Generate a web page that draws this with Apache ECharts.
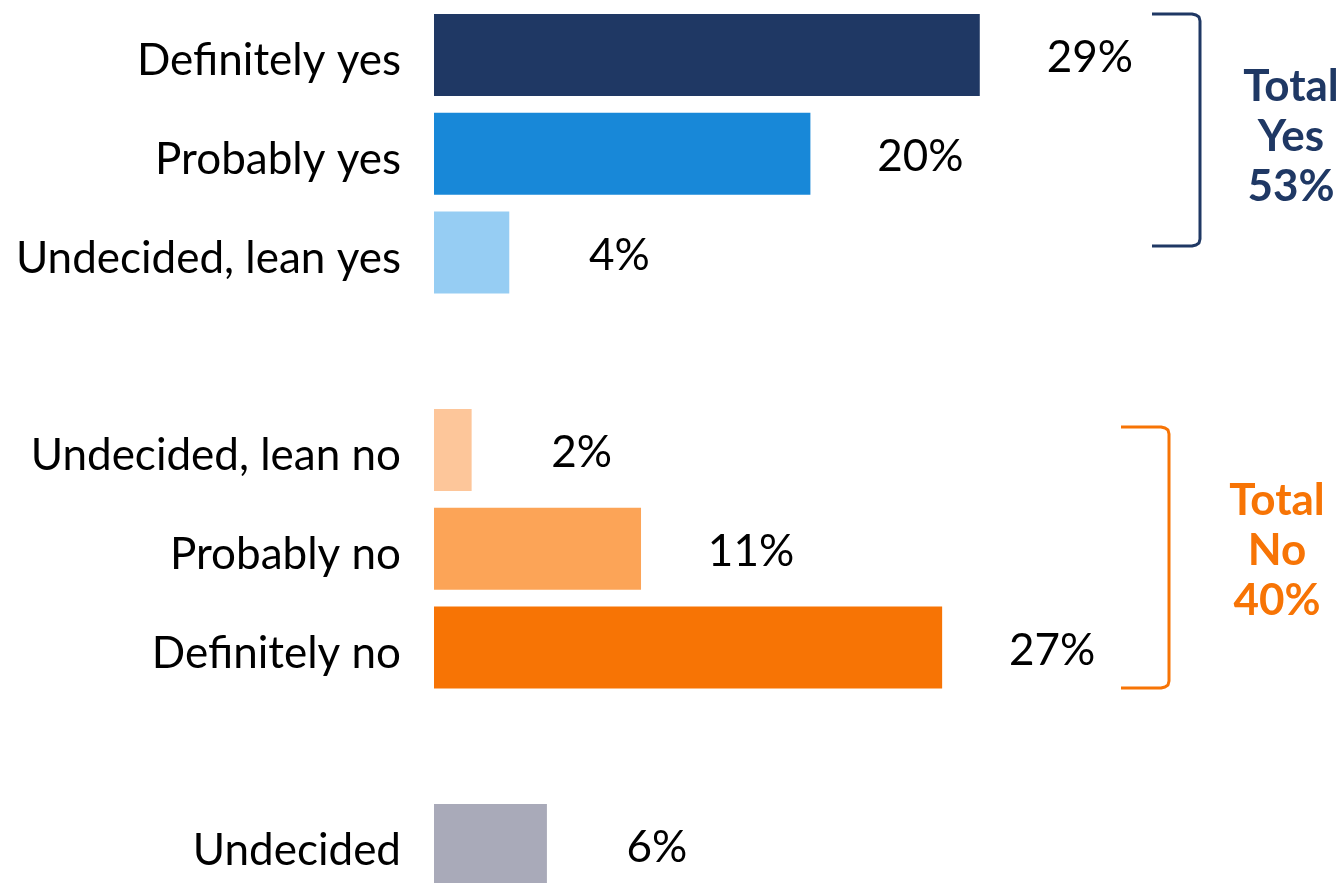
<!DOCTYPE html>
<html>
<head>
<meta charset="utf-8">
<script src="https://cdn.jsdelivr.net/npm/echarts@6/dist/echarts.min.js"></script>
<style>
html,body{margin:0;padding:0;background:#fff;}
#main{width:1342px;height:883px;}
</style>
</head>
<body>
<div id="main"></div>
<script>
const categories = ['Definitely yes', 'Probably yes', 'Undecided, lean yes', '', 'Undecided, lean no', 'Probably no', 'Definitely no', ' ', 'Undecided'];
const values = [29, 20, 4, null, 2, 11, 27, null, 6];
const totalYes = 53;
const totalNo = 40;

const barColors = ['#1F3864', '#1888D8', '#96CDF3', '#ffffff', '#FDC69A', '#FCA457', '#F77405', '#ffffff', '#A9AAB9'];
const navy = '#1F3864';
const orange = '#F77405';
const FONT = 'Lato';

function bracket(xl, xr, yt, yb) {
  return [
    [xl, yt], [xr - 8, yt], [xr - 4, yt + 1], [xr - 1, yt + 3], [xr, yt + 7],
    [xr, yb - 7], [xr - 1, yb - 3], [xr - 4, yb - 1], [xr - 8, yb], [xl, yb]
  ];
}

const chart = echarts.init(document.getElementById('main'));
chart.setOption({
  animation: false,
  backgroundColor: '#ffffff',
  grid: { left: 434, width: 752.8, top: 5.6, height: 888.8, containLabel: false, outerBoundsMode: 'none' },
  xAxis: { type: 'value', min: 0, max: 40, show: false },
  yAxis: {
    type: 'category',
    data: categories,
    inverse: true,
    axisLine: { show: false },
    axisTick: { show: false },
    splitLine: { show: false },
    axisLabel: {
      color: '#000', fontFamily: FONT, fontSize: 44, margin: 33,
      formatter: v => '{c|' + v + '}',
      rich: { c: { color: '#000', fontFamily: FONT, fontSize: 44, padding: [12, 0, 0, 0] } }
    }
  },
  series: [{
    type: 'bar',
    barWidth: 82,
    data: values.map((v, i) => ({ value: v, itemStyle: { color: barColors[i] } })),
    label: {
      show: true,
      position: 'right',
      distance: 0,
      align: 'center',
      offset: [110, 3],
      color: '#000',
      fontFamily: FONT,
      fontSize: 44,
      formatter: p => (p.value == null ? '' : p.value + '%')
    }
  }],
  graphic: [
    {
      type: 'polyline',
      shape: { points: bracket(1152, 1200, 14, 246) },
      style: { fill: null, stroke: navy, lineWidth: 3, lineJoin: 'round' }
    },
    {
      type: 'polyline',
      shape: { points: bracket(1121, 1169, 427, 688) },
      style: { fill: null, stroke: orange, lineWidth: 3, lineJoin: 'round' }
    },
    {
      type: 'text',
      style: {
        x: 1291, y: 137, text: 'Total\nYes\n' + totalYes + '%',
        fill: navy, font: 'bold 44px ' + FONT, lineHeight: 50,
        align: 'center', verticalAlign: 'middle'
      }
    },
    {
      type: 'text',
      style: {
        x: 1277, y: 551, text: 'Total\nNo\n' + totalNo + '%',
        fill: orange, font: 'bold 44px ' + FONT, lineHeight: 50,
        align: 'center', verticalAlign: 'middle'
      }
    }
  ]
});
</script>
</body>
</html>
